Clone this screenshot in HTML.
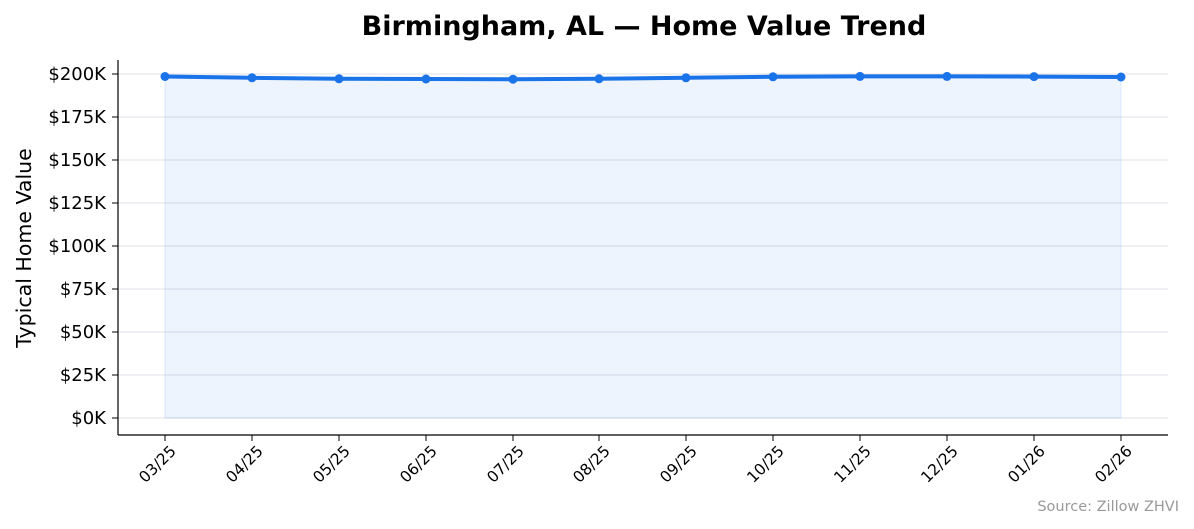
<!DOCTYPE html>
<html><head><meta charset="utf-8"><style>
body{margin:0;background:#fff;}
svg{display:block;font-family:"DejaVu Sans","Liberation Sans",sans-serif;}
</style></head><body>
<svg width="1194" height="529" viewBox="0 0 1194 529">
<text x="644" y="35" text-anchor="middle" font-size="27" font-weight="bold" fill="#000">Birmingham, AL — Home Value Trend</text>
<g stroke="#dde1e8" stroke-width="1">
<line x1="118" x2="1168" y1="418" y2="418"/><line x1="118" x2="1168" y1="375" y2="375"/>
<line x1="118" x2="1168" y1="332" y2="332"/><line x1="118" x2="1168" y1="289" y2="289"/>
<line x1="118" x2="1168" y1="246" y2="246"/><line x1="118" x2="1168" y1="203" y2="203"/>
<line x1="118" x2="1168" y1="160" y2="160"/><line x1="118" x2="1168" y1="117" y2="117"/>
<line x1="118" x2="1168" y1="74" y2="74"/>
</g>
<polygon fill="#1a73e8" fill-opacity="0.08" stroke="#1a73e8" stroke-opacity="0.12" points="165,418 165,76.5 252,77.8 339,78.8 426,79 513,79.2 599,78.8 686,77.8 773,76.8 860,76.4 947,76.4 1034,76.6 1121,77 1121,418"/>
<polyline fill="none" stroke="#1a73e8" stroke-width="4" stroke-linejoin="round" points="165,76.5 252,77.8 339,78.8 426,79 513,79.2 599,78.8 686,77.8 773,76.8 860,76.4 947,76.4 1034,76.6 1121,77"/>
<g fill="#1a73e8">
<circle cx="165" cy="76.5" r="4.5"/><circle cx="252" cy="77.8" r="4.5"/><circle cx="339" cy="78.8" r="4.5"/><circle cx="426" cy="79" r="4.5"/><circle cx="513" cy="79.2" r="4.5"/><circle cx="599" cy="78.8" r="4.5"/><circle cx="686" cy="77.8" r="4.5"/><circle cx="773" cy="76.8" r="4.5"/><circle cx="860" cy="76.4" r="4.5"/><circle cx="947" cy="76.4" r="4.5"/><circle cx="1034" cy="76.6" r="4.5"/><circle cx="1121" cy="77" r="4.5"/>
</g>
<g stroke="#000" stroke-width="1.2">
<line x1="118" y1="60" x2="118" y2="435"/><line x1="118" y1="435" x2="1168" y2="435"/>
</g>
<g stroke="#000" stroke-width="1">
<line x1="112" x2="118" y1="418" y2="418"/><line x1="112" x2="118" y1="375" y2="375"/><line x1="112" x2="118" y1="332" y2="332"/><line x1="112" x2="118" y1="289" y2="289"/><line x1="112" x2="118" y1="246" y2="246"/><line x1="112" x2="118" y1="203" y2="203"/><line x1="112" x2="118" y1="160" y2="160"/><line x1="112" x2="118" y1="117" y2="117"/><line x1="112" x2="118" y1="74" y2="74"/>
<line x1="165" x2="165" y1="435" y2="441"/><line x1="252" x2="252" y1="435" y2="441"/><line x1="339" x2="339" y1="435" y2="441"/><line x1="426" x2="426" y1="435" y2="441"/><line x1="513" x2="513" y1="435" y2="441"/><line x1="599" x2="599" y1="435" y2="441"/><line x1="686" x2="686" y1="435" y2="441"/><line x1="773" x2="773" y1="435" y2="441"/><line x1="860" x2="860" y1="435" y2="441"/><line x1="947" x2="947" y1="435" y2="441"/><line x1="1034" x2="1034" y1="435" y2="441"/><line x1="1121" x2="1121" y1="435" y2="441"/>
</g>
<g font-size="18" fill="#000" text-anchor="end">
<text x="106" y="424">$0K</text><text x="106" y="381">$25K</text><text x="106" y="338">$50K</text><text x="106" y="295">$75K</text><text x="106" y="252">$100K</text><text x="106" y="209">$125K</text><text x="106" y="166">$150K</text><text x="106" y="123">$175K</text><text x="106" y="80">$200K</text>
</g>
<g font-size="15.5" fill="#000" text-anchor="end">
<text transform="translate(177,452) rotate(-45)">03/25</text><text transform="translate(264,452) rotate(-45)">04/25</text><text transform="translate(351,452) rotate(-45)">05/25</text><text transform="translate(438,452) rotate(-45)">06/25</text><text transform="translate(525,452) rotate(-45)">07/25</text><text transform="translate(611,452) rotate(-45)">08/25</text><text transform="translate(698,452) rotate(-45)">09/25</text><text transform="translate(785,452) rotate(-45)">10/25</text><text transform="translate(872,452) rotate(-45)">11/25</text><text transform="translate(959,452) rotate(-45)">12/25</text><text transform="translate(1046,452) rotate(-45)">01/26</text><text transform="translate(1133,452) rotate(-45)">02/26</text>
</g>
<text transform="translate(31,248) rotate(-90)" text-anchor="middle" font-size="20.5" fill="#000">Typical Home Value</text>
<text x="1179" y="511" text-anchor="end" font-size="14.5" fill="#999">Source: Zillow ZHVI</text>
</svg>
</body></html>
